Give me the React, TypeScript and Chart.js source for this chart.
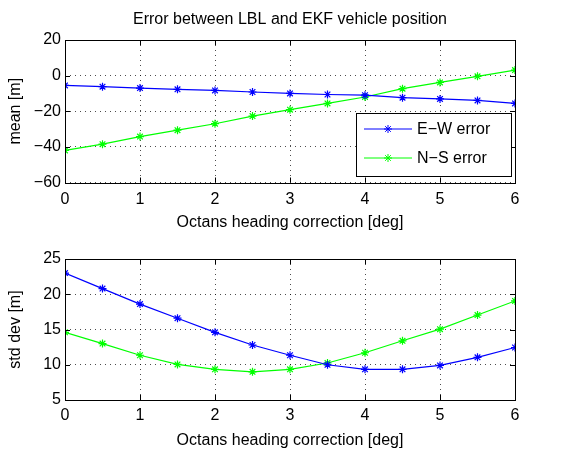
import React, { useEffect, useRef } from "react";
import { Chart, registerables } from "chart.js";

Chart.register(...registerables);

// ---- data ----
const headings = [0, 0.5, 1, 1.5, 2, 2.5, 3, 3.5, 4, 4.5, 5, 5.5, 6];
const meanEW = [-5.5, -6.2, -7.0, -7.7, -8.3, -9.2, -10.0, -10.6, -11.0, -12.4, -13.1, -13.9, -15.6];
const meanNS = [-42.0, -38.5, -34.2, -30.6, -27.0, -22.7, -19.1, -15.6, -12.0, -7.3, -3.8, -0.4, 3.1];
const stdEW = [23.0, 20.8, 18.6, 16.6, 14.6, 12.8, 11.35, 10.0, 9.35, 9.35, 9.9, 11.05, 12.45];
const stdNS = [14.6, 13.0, 11.35, 10.05, 9.35, 9.0, 9.35, 10.25, 11.7, 13.4, 15.05, 17.05, 19.05];
const seriesLabels = ["E\u2212W error", "N\u2212S error"];
const meanTicks = [-60, -40, -20, 0, 20];
const stdTicks = [5, 10, 15, 20, 25];
const headingTicks = [0, 1, 2, 3, 4, 5, 6];
const chartTitle = "Error between LBL and EKF vehicle position";
const xTitle = "Octans heading correction [deg]";
const meanTitle = "mean [m]";
const stdTitle = "std dev [m]";

const FONT = "'Liberation Sans', Arial, Helvetica, sans-serif";
const FS = 16;
const BLUE = "#0000ff";
const GREEN = "#00ff00";
const PLOT_LEFT = 65;
const PLOT_RIGHT = 515;

const fmt = (v: number | string) => String(v).replace("-", "\u2212");

const boxPlugin = {
  id: "matlabBox",
  afterDatasetsDraw(chart: any) {
    const { ctx, chartArea: a, scales } = chart;
    ctx.save();
    ctx.strokeStyle = "#000";
    ctx.lineWidth = 1;
    ctx.setLineDash([]);
    ctx.beginPath();
    const tl = 5;
    scales.x.ticks.forEach((t: any) => {
      const p = Math.round(scales.x.getPixelForValue(t.value)) + 0.5;
      ctx.moveTo(p, a.bottom);
      ctx.lineTo(p, a.bottom - tl);
      ctx.moveTo(p, a.top);
      ctx.lineTo(p, a.top + tl);
    });
    scales.y.ticks.forEach((t: any) => {
      const p = Math.round(scales.y.getPixelForValue(t.value)) + 0.5;
      ctx.moveTo(a.left, p);
      ctx.lineTo(a.left + tl, p);
      ctx.moveTo(a.right, p);
      ctx.lineTo(a.right - tl, p);
    });
    ctx.stroke();
    ctx.strokeRect(Math.round(a.left) + 0.5, Math.round(a.top) + 0.5, Math.round(a.right - a.left), Math.round(a.bottom - a.top));
    ctx.restore();
  },
};

const insideLegend = {
  id: "insideLegend",
  afterDraw(chart: any, _args: any, opts: any) {
    if (!opts || !opts.display) return;
    const { ctx, chartArea: a } = chart;
    const left = a.right - opts.fromRight;
    const top = a.top + opts.fromTop;
    const w = opts.width;
    const h = opts.height;
    ctx.save();
    ctx.fillStyle = "#fff";
    ctx.fillRect(left, top, w, h);
    ctx.strokeStyle = "#000";
    ctx.lineWidth = 1;
    ctx.strokeRect(Math.round(left) + 0.5, Math.round(top) + 0.5, Math.round(w), Math.round(h));
    chart.data.datasets.forEach((ds: any, i: number) => {
      const y = top + opts.rowTop + i * opts.rowGap;
      ctx.strokeStyle = ds.borderColor;
      ctx.lineWidth = 1;
      ctx.beginPath();
      ctx.moveTo(left + 8, y);
      ctx.lineTo(left + 56, y);
      ctx.stroke();
      const r = 4;
      const cx = left + 32;
      ctx.beginPath();
      ctx.moveTo(cx - r, y);
      ctx.lineTo(cx + r, y);
      ctx.moveTo(cx, y - r);
      ctx.lineTo(cx, y + r);
      const d = r * Math.SQRT1_2;
      ctx.moveTo(cx - d, y - d);
      ctx.lineTo(cx + d, y + d);
      ctx.moveTo(cx - d, y + d);
      ctx.lineTo(cx + d, y - d);
      ctx.stroke();
      ctx.fillStyle = "#000";
      ctx.font = `${FS}px ${FONT}`;
      ctx.textBaseline = "middle";
      ctx.textAlign = "left";
      ctx.fillText(ds.label, left + 61, y + 1);
    });
    ctx.restore();
  },
};

function makeDataset(label: string, ys: number[], color: string) {
  return {
    label,
    data: headings.map((x, i) => ({ x, y: ys[i] })),
    borderColor: color,
    backgroundColor: color,
    borderWidth: 1.2,
    pointStyle: "star",
    pointRadius: 4,
    pointBorderWidth: 1.2,
    pointBorderColor: color,
    tension: 0,
    fill: false,
  };
}

function makeOptions(opts: {
  yTicks: number[];
  yTitle: string;
  padding: any;
  xHeight: number;
  tickPad: number;
  title?: string;
  legend?: boolean;
}) {
  const grid = { color: "rgba(0,0,0,0.7)", lineWidth: 1, drawTicks: false };
  const border = { display: false, dash: [1, 4] };
  return {
    responsive: false,
    animation: false,
    events: [],
    layout: { padding: opts.padding },
    plugins: {
      legend: { display: false },
      tooltip: { enabled: false },
      title: opts.title
        ? {
            display: true,
            fullSize: false,
            text: opts.title,
            color: "#000",
            font: { family: FONT, size: FS, weight: "normal" },
            padding: { top: 10.4, bottom: 10.4 },
          }
        : { display: false },
      insideLegend: opts.legend
        ? { display: true, fromRight: 159, fromTop: 73, width: 155, height: 63, rowTop: 16, rowGap: 29 }
        : { display: false },
    },
    scales: {
      x: {
        type: "linear",
        min: headingTicks[0],
        max: headingTicks[headingTicks.length - 1],
        grid,
        border,
        afterBuildTicks: (s: any) => {
          s.ticks = headingTicks.map((v) => ({ value: v }));
        },
        afterFit: (s: any) => {
          s.height = opts.xHeight;
        },
        ticks: {
          color: "#000",
          font: { family: FONT, size: FS },
          padding: opts.tickPad,
          maxRotation: 0,
          callback: (v: any) => fmt(v),
        },
        title: {
          display: true,
          text: xTitle,
          color: "#000",
          font: { family: FONT, size: FS },
          padding: { top: 0, bottom: 0 },
        },
      },
      y: {
        type: "linear",
        min: opts.yTicks[0],
        max: opts.yTicks[opts.yTicks.length - 1],
        grid,
        border,
        afterBuildTicks: (s: any) => {
          s.ticks = opts.yTicks.map((v) => ({ value: v }));
        },
        afterFit: (s: any) => {
          s.width = PLOT_LEFT;
        },
        ticks: {
          color: "#000",
          font: { family: FONT, size: FS },
          padding: 4,
          callback: (v: any) => fmt(v),
        },
        title: {
          display: true,
          text: opts.yTitle,
          color: "#000",
          font: { family: FONT, size: FS },
          padding: { top: 6, bottom: 0 },
        },
      },
    },
  };
}

export default function App() {
  const topRef = useRef<HTMLCanvasElement>(null);
  const botRef = useRef<HTMLCanvasElement>(null);

  useEffect(() => {
    const top = new Chart(topRef.current as HTMLCanvasElement, {
      type: "line",
      data: {
        datasets: [makeDataset(seriesLabels[0], meanEW, BLUE), makeDataset(seriesLabels[1], meanNS, GREEN)],
      },
      options: makeOptions({
        yTicks: meanTicks,
        yTitle: meanTitle,
        padding: { left: 0, right: 569 - PLOT_RIGHT, top: 0, bottom: 217.5 },
        xHeight: 50,
        tickPad: 7,
        title: chartTitle,
        legend: true,
      }) as any,
      plugins: [boxPlugin, insideLegend],
    });
    const bot = new Chart(botRef.current as HTMLCanvasElement, {
      type: "line",
      data: {
        datasets: [makeDataset(seriesLabels[0], stdEW, BLUE), makeDataset(seriesLabels[1], stdNS, GREEN)],
      },
      options: makeOptions({
        yTicks: stdTicks,
        yTitle: stdTitle,
        padding: { left: 0, right: 569 - PLOT_RIGHT, top: 259, bottom: 0 },
        xHeight: 50,
        tickPad: 6,
      }) as any,
      plugins: [boxPlugin],
    });
    return () => {
      top.destroy();
      bot.destroy();
    };
  }, []);

  const cstyle: React.CSSProperties = { position: "absolute", left: 0, top: 0, width: 569, height: 450 };
  return (
    <div style={{ position: "fixed", left: 0, top: 0, width: 569, height: 450, background: "#fff" }}>
      <canvas ref={topRef} width={569} height={450} style={cstyle} />
      <canvas ref={botRef} width={569} height={450} style={cstyle} />
    </div>
  );
}
